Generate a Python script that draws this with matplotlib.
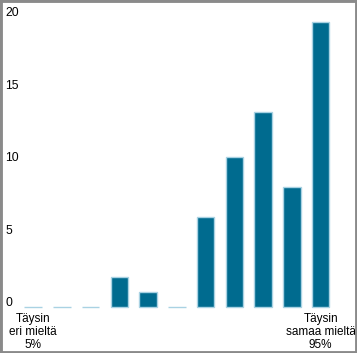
import matplotlib
matplotlib.use('Agg')
import matplotlib.pyplot as plt
from matplotlib.patches import Rectangle

# ── data ─────────────────────────────────────────────────────────────
positions = list(range(11))
counts = [0, 0, 0, 2, 1, 0, 6, 10, 13, 8, 19]
y_ticks = [0, 5, 10, 15, 20]
x_tick_pos = [0, 10]
x_tick_labels = ["Täysin\neri mieltä\n5%", "Täysin\nsamaa mieltä\n95%"]

plt.rcParams['font.family'] = ['Liberation Sans', 'DejaVu Sans']

W, H = 357, 353
fig = plt.figure(figsize=(W / 100, H / 100), dpi=100)
fig.patch.set_facecolor('white')

# axes: baseline at pixel 307 from top, 15 px per unit
base_px = H - 307
ax = fig.add_axes([0, base_px / H, 1, (H - base_px) / H])
ax.set_xlim(-33.2 / 28.75, (W - 33.2) / 28.75)
ax.set_ylim(0, (H - base_px) / 15)

bars = ax.bar(positions, counts, width=0.61, color='#006b8f',
              edgecolor='#a9d2e3', linewidth=1.0, clip_on=False)

for s in ax.spines.values():
    s.set_visible(False)
ax.set_yticks([])

ax.set_xticks(x_tick_pos)
ax.set_xticklabels(x_tick_labels, linespacing=1.15)
ax.tick_params(axis='x', length=0, pad=4.0, labelsize=8.5, colors='black')

# value labels sit on a slightly tighter scale than the bars
lab = ax.twinx()
lab.set_ylim(-5 / 14.525, 302 / 14.525)
lab.yaxis.set_ticks_position('left')
lab.set_yticks(y_ticks)
lab.set_yticklabels([str(v) for v in y_ticks], ha='left')
lab.tick_params(axis='y', length=0, pad=-3.6, labelsize=8.7, colors='black')
for s in lab.spines.values():
    s.set_visible(False)

# grey frame round the picture
fig.patches.append(Rectangle((0, 0), 1, 1, transform=fig.transFigure,
                             fill=False, edgecolor='#8a8a8a',
                             linewidth=3.5, zorder=10))

fig.savefig('out.png', dpi=100)
